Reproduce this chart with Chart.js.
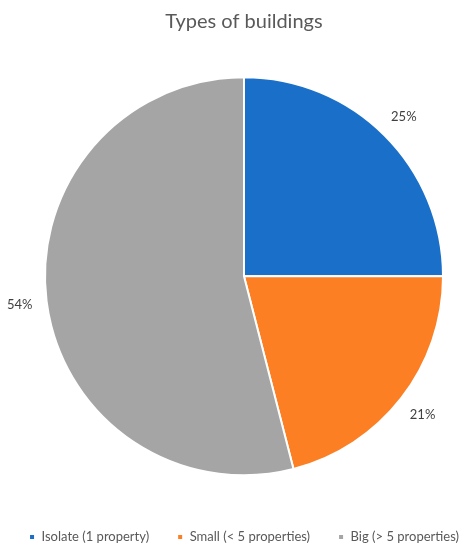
<!DOCTYPE html>
<html>
<head>
<meta charset="utf-8">
<script src="https://cdn.jsdelivr.net/npm/chart.js@4/dist/chart.umd.min.js"></script>
<style>
  html, body { margin: 0; padding: 0; background: #fff; overflow: hidden; }
  /* wider than the window and pulled left so the chart centres at x=244 */
  #wrap { width: 520px; height: 550px; margin-left: -16px; position: relative; }
</style>
</head>
<body>
<div id="wrap"><canvas id="pie"></canvas></div>
<script>
// data
const categories = ["Isolate (1 property)", "Small (< 5 properties)", "Big (> 5 properties)"];
const shares = [25, 21, 54];
const sliceColors = ["#1a70c9", "#fd7f23", "#a5a5a5"];

// percent labels just outside each slice
const outsideLabels = {
  id: "outsideLabels",
  afterDatasetsDraw(chart) {
    const ctx = chart.ctx;
    const meta = chart.getDatasetMeta(0);
    ctx.save();
    ctx.font = "13px Lato, 'Open Sans', sans-serif";
    ctx.fillStyle = "#404040";
    ctx.textAlign = "center";
    ctx.textBaseline = "middle";
    meta.data.forEach((arc, i) => {
      const p = arc.getProps(["x", "y", "startAngle", "endAngle", "outerRadius"], true);
      const mid = (p.startAngle + p.endAngle) / 2;
      const r = p.outerRadius + 27;
      ctx.fillText(shares[i] + "%", p.x + Math.cos(mid) * r, p.y + Math.sin(mid) * r);
    });
    ctx.restore();
  },
};

new Chart(document.getElementById("pie").getContext("2d"), {
  type: "pie",
  data: {
    labels: categories,
    datasets: [
      {
        data: shares,
        backgroundColor: sliceColors,
        borderColor: "#ffffff",
        borderWidth: 2,
      },
    ],
  },
  options: {
    responsive: true,
    maintainAspectRatio: false,
    animation: false,
    radius: 199,
    layout: { padding: { left: 0, right: 0, top: 0, bottom: -3.5 } },
    plugins: {
      title: {
        display: true,
        text: "Types of buildings",
        color: "#595959",
        font: { family: "Lato, 'Open Sans', sans-serif", size: 20, weight: "normal" },
        padding: { top: 10, bottom: 16 },
      },
      legend: {
        position: "bottom",
        labels: {
          color: "#595959",
          boxWidth: 6,
          boxHeight: 6,
          padding: 28,
          font: { family: "Lato, 'Open Sans', sans-serif", size: 13 },
        },
      },
      tooltip: { enabled: false },
    },
  },
  plugins: [outsideLabels],
});
</script>
</body>
</html>
